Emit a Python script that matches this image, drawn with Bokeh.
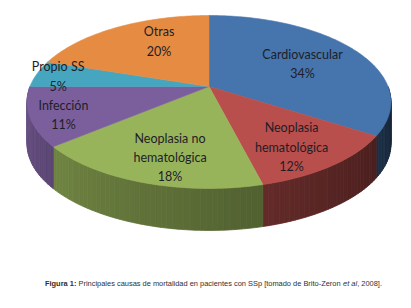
import numpy as np
from bokeh.plotting import figure
from bokeh.models import Range1d
from bokeh.core.properties import value
from bokeh.embed import file_html
from bokeh.resources import INLINE

# ---------------- data ----------------
categories = ["Cardiovascular", "Neoplasia\nhematológica", "Neoplasia no\nhematológica",
              "Infección", "Propio SS", "Otras"]
percents = [34, 12, 18, 11, 5, 20]
colors = ["#4674ac", "#b94f4c", "#98b45a", "#7b5f9d", "#46a6c0", "#e68b42"]
caption_bold = "Figura 1:"
caption_main = "Principales causas de mortalidad en pacientes con SSp [tomado de Brito-Zeron"
caption_italic = "et al"
caption_end = ", 2008]."

# label placement (fraction of radius, angular nudge in degrees)
label_r = [0.62, 0.76, 0.76, 0.83, 0.87, 0.67]
label_da = [-1.2, -3.5, 3.6, 2.7, 0.9, -8.6]

# ---------------- projection of the tilted disc ----------------
CX, CY, AY, G, K = 208.5, 86.0, -68.3, 0.179, 179.0
DEPTH = 42.0


def proj(x, y):
    den = 1.0 + G * y
    return CX + K * x / den, (CY + AY * y) / den


def arc(a0, a1, r=1.0, step=1.0):
    n = max(2, int(abs(a1 - a0) / step) + 1)
    th = np.radians(np.linspace(a0, a1, n))
    return proj(r * np.cos(th), r * np.sin(th))


def shade(hexc, f):
    h = hexc.lstrip("#")
    rgb = [int(h[i:i + 2], 16) for i in (0, 2, 4)]
    return "#%02x%02x%02x" % tuple(max(0, min(255, int(round(c * f)))) for c in rgb)


p = figure(width=395, height=292, output_backend="svg", toolbar_location=None,
           x_range=Range1d(0, 395), y_range=Range1d(292, 0), min_border=0)
p.axis.visible = False
p.grid.visible = False
p.outline_line_color = None
p.background_fill_color = "white"

# slice angles (start at 12 o'clock, clockwise)
total = float(sum(percents))
starts, ends = [], []
acc = 0.0
for v in percents:
    a0 = 90.0 - 360.0 * acc / total
    acc += v
    a1 = 90.0 - 360.0 * acc / total
    starts.append(a0)
    ends.append(a1)

# ---------------- sides (front half only) ----------------
sx, sy, sc = [], [], []
for a0, a1, col in zip(starts, ends, colors):
    lo, hi = max(a1, -180.0), min(a0, 0.0)
    if hi <= lo:
        continue
    n = max(2, int((hi - lo) / 1.5) + 1)
    ths = np.linspace(hi, lo, n)
    for t0, t1 in zip(ths[:-1], ths[1:]):
        xa, ya = proj(np.cos(np.radians([t0, t1])), np.sin(np.radians([t0, t1])))
        xs = [xa[0], xa[1], xa[1], xa[0]]
        ys = [ya[0], ya[1], ya[1] + DEPTH, ya[0] + DEPTH]
        tm = 0.5 * (t0 + t1)
        f = 0.86 - 0.56 * ((tm + 180.0) / 180.0)
        c = shade(col, f)
        sx.append(xs)
        sy.append(ys)
        sc.append(c)
p.patches(sx, sy, fill_color=sc, line_color=sc, line_width=0.8)

# ---------------- top faces ----------------
tx, ty = [], []
ax0, ay0 = proj(0.0, 0.0)
for a0, a1 in zip(starts, ends):
    xa, ya = arc(a0, a1)
    tx.append([ax0] + list(xa))
    ty.append([ay0] + list(ya))
p.patches(tx, ty, fill_color=colors, line_color=colors, line_width=0.6)

# ---------------- labels ----------------
lx, ly, lt = [], [], []
for a0, a1, r, da, name, v in zip(starts, ends, label_r, label_da, categories, percents):
    am = np.radians(0.5 * (a0 + a1) + da)
    x, y = proj(r * np.cos(am), r * np.sin(am))
    lx.append(float(x))
    ly.append(float(y))
    lt.append(f"{name}\n{v}%")
p.text(lx, ly, text=lt, text_font=value("Lato"), text_font_size="12.5px",
       text_color="#1e1e28", text_align="center", text_baseline="middle",
       text_line_height=1.28)

# ---------------- caption ----------------
W = {" ": 278, "P": 667, "r": 333, "i": 222, "n": 556, "c": 500, "p": 556, "a": 556,
     "l": 222, "e": 556, "s": 500, "u": 556, "d": 556, "m": 833, "o": 556, "t": 278,
     "S": 667, "[": 278, "B": 667, "-": 333, "Z": 611, "]": 278, ",": 278, "2": 556,
     "0": 556, "8": 556, ".": 278, "1": 556, ":": 278, "F": 611, "g": 556}
WB = {"F": 611, "i": 278, "g": 611, "u": 611, "r": 389, "a": 556, " ": 278, "1": 556, ":": 333}


def width(s, table, fs):
    return sum(table.get(ch, 556) for ch in s) * fs / 1000.0


fs = 7.45
space = 278 * fs / 1000.0
pieces = [(caption_bold, "bold", WB, space), (caption_main, "normal", W, space),
          (caption_italic, "italic", W, 0.0), (caption_end, "normal", W, 0.0)]
tot = sum(width(s, t, fs) + g for s, _, t, g in pieces)
x = 213.0 - tot / 2.0
for s, style, t, gap in pieces:
    p.text([x], [282.5], text=[s], text_font=value("Liberation Sans"),
           text_font_size=f"{fs}px", text_font_style=style, text_color="#303030",
           text_align="left", text_baseline="middle")
    x += width(s, t, fs) + gap

open("out.html", "w").write(file_html(p, INLINE))
